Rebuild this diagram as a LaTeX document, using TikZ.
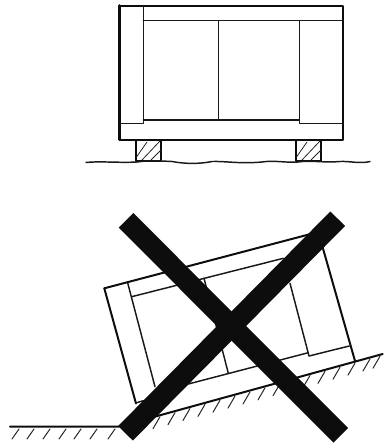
\documentclass[tikz,border=0pt]{standalone}
\tikzset{
  px/.style={x=0.75pt,y=-0.75pt},
  heavy/.style={line width=1.5pt,line cap=round,line join=round,black!95},
  mid/.style={line width=1.1pt,line cap=round,line join=round,black!90},
  thin/.style={line width=0.75pt,line cap=round,black!85},
  hatchline/.style={line width=0.6pt,black!85},
  cross/.style={line width=15.5pt,black!95}
}
\begin{document}
\begin{tikzpicture}[px]
\useasboundingbox (0,0) rectangle (383,446);
% upright crate
\coordinate (ATL) at (119.5,5.5);
\coordinate (ATR) at (342.7,5.5);
\coordinate (ABR) at (342.7,139.7);
\coordinate (ABL) at (119.5,139.7);
\draw[heavy] (ATL) -- (ATR) -- (ABR) -- (ABL) -- cycle;
\draw[heavy,line width=2pt] (ATL) -- (ABL);
\draw[mid] (143.3,5.5) -- (143.3,123.5) -- (119.5,123.5);
\draw[mid] (143.3,20.7) -- (342.7,20.7);
\draw[mid] (143.3,120) -- (299.3,120);
\draw[mid] (218.3,20.7) -- (218.3,120);
\draw[mid] (299.3,20.7) -- (299.3,123.5) -- (342.7,123.5);
% blocks
\foreach \x in {136,296}{
  \draw[heavy] (\x,139.7) rectangle (\x+25.3,160.5);
  \begin{scope}
    \clip (\x,139.7) rectangle (\x+25.3,160.5);
    \draw[hatchline] (\x+0.5,157) -- (\x+11,142);
    \draw[hatchline] (\x+6,160) -- (\x+24,141);
    \draw[hatchline] (\x+15,160) -- (\x+25,150);
  \end{scope}
}
% wavy floor
\draw[mid] (86,162.5) .. controls (100,161) and (120,163) .. (137,162)
  .. controls (150,160) and (160,161) .. (172,161.5)
  .. controls (185,164) and (200,164) .. (212,161.5)
  .. controls (225,161) and (240,164) .. (262,162)
  .. controls (275,160) and (285,163) .. (298,162)
  .. controls (310,160) and (325,163) .. (340,161.5)
  .. controls (350,161) and (360,164) .. (370,161.5);
% tilted crate
\coordinate (BTL) at (104.3,288.3);
\coordinate (BTR) at (318.3,232);
\coordinate (BBR) at (355,361);
\coordinate (BBL) at (136,403.5);
\draw[heavy] (BTL) -- (BTR) -- (BBR);
\draw[heavy] (BTL) -- (BBL);
\draw[mid] (127.7,283) -- (155,386.7);
\draw[mid] (131.7,296.7) -- (283.3,258.3);
\draw[mid] (204,278.3) -- (228.3,373.3);
\draw[mid] (290,283.3) -- (309,356) -- (349.3,346);
\draw[mid] (188.3,384) -- (308.3,352.7);
\draw[mid] (136.7,402.7) -- (143.3,400.7);
% ground
\coordinate (G0) at (10,426.7);
\coordinate (G1) at (118.3,426.7);
\coordinate (G2) at (382.7,354);
\draw[heavy] (G0) -- (G1) -- (G2);
\foreach \x in {19,34,50,66,81,97,115}
  \draw[thin] (\x,429) -- (\x-7,439);
\foreach \x in {160,175,190,205,220,235,250,265,280,295,310,325,340,355,370,380}{
  \pgfmathsetmacro{\yy}{426.7-(\x-118.3)*0.2750}
  \draw[thin] (\x,\yy+1.5) -- (\x-7,\yy+13.5);
}
% cross
\coordinate (C1) at (126,220.3);
\coordinate (C2) at (340.7,435.3);
\coordinate (C3) at (337.7,218.7);
\coordinate (C4) at (125.5,433.3);
\draw[cross] (C1) -- (C2);
\draw[cross] (C3) -- (C4);
\end{tikzpicture}
\end{document}
